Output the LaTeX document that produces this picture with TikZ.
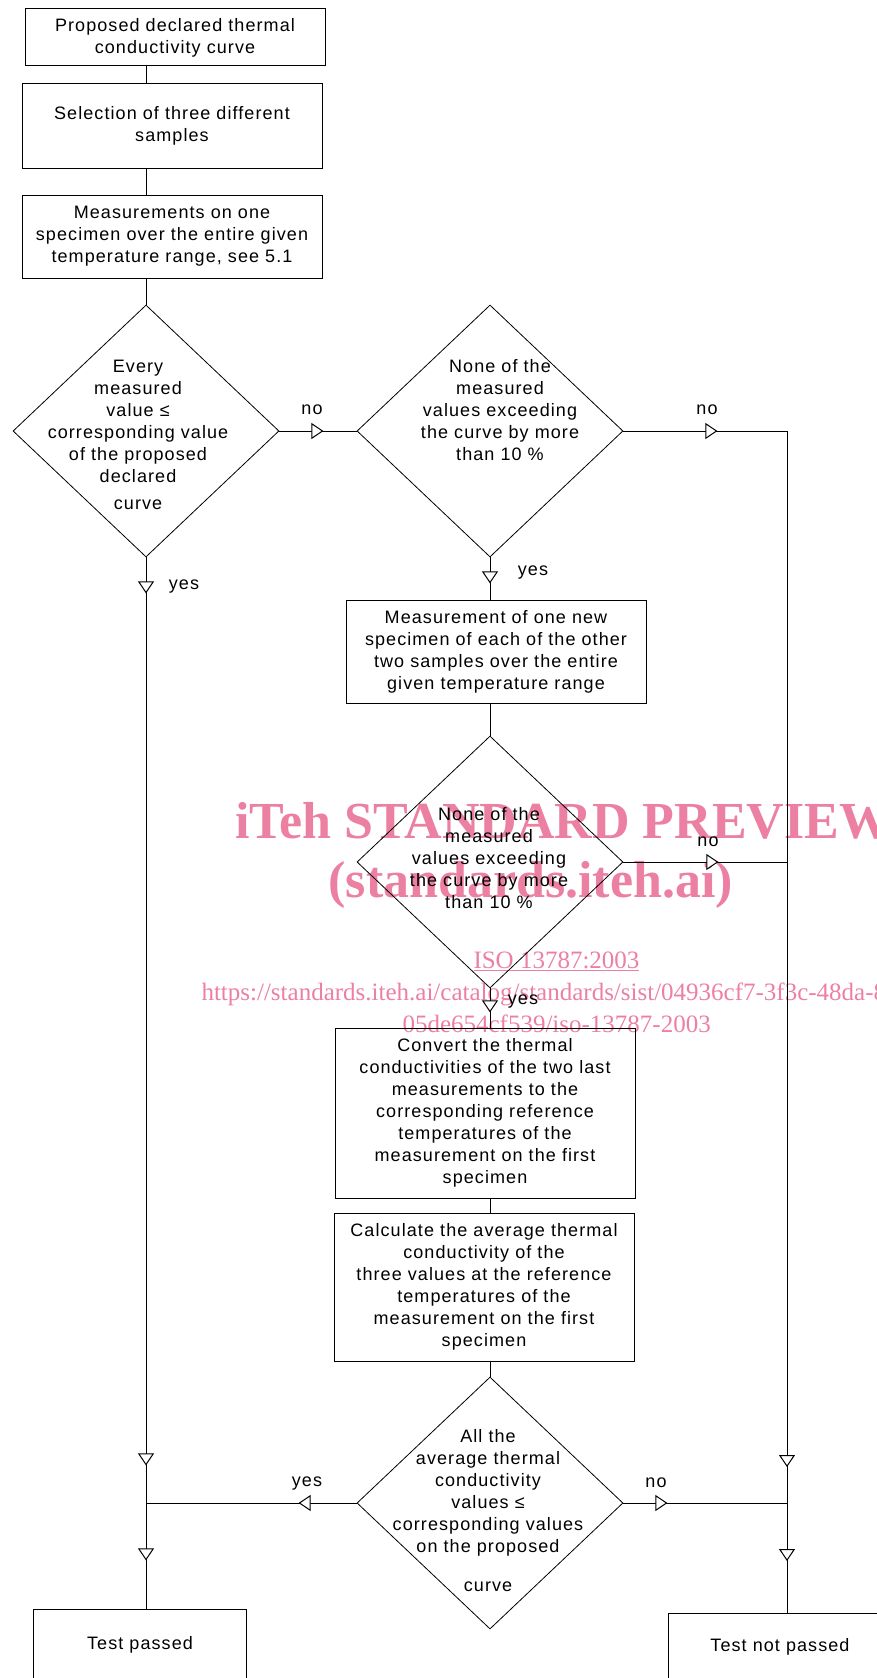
\documentclass[tikz,border=0pt]{standalone}
\usepackage{fontspec}
\setmainfont{Liberation Sans}[LetterSpace=6]
\newfontfamily\wmfont{Liberation Serif}
\usetikzlibrary{shapes.geometric,arrows.meta,decorations.markings}
\definecolor{wmpink}{RGB}{236,128,162}

\begin{document}
\begin{tikzpicture}[x=1pt, y=-1pt, line width=1pt, font=\fontsize{18}{22}\selectfont,
    box/.style={draw, align=center, minimum width=300pt, inner sep=2pt},
    decision/.style={draw, diamond, minimum width=266pt, minimum height=252pt, inner sep=0pt, line width=0.8pt},
    dtext/.style={align=center, inner sep=0pt},
    lbl/.style={inner sep=0pt},
    wm/.style={text=wmpink, inner sep=0pt, anchor=base west},
    arrowat/.style={postaction={decorate, decoration={markings,
        mark=at position #1 with {\arrow{Triangle[length=12pt, width=16pt, fill=white]}}}}}]
        \useasboundingbox (0,0) rectangle (877,1678);
        \clip (0,0) rectangle (877,1678);

        \node[wm, font=\wmfont\bfseries\fontsize{52}{52}\selectfont] (w1) at (235,838) {iTeh STANDARD PREVIEW};
        \node[wm, font=\wmfont\bfseries\fontsize{52}{52}\selectfont] (w2) at (328,897) {(standards.iteh.ai)};
        \node[wm, font=\wmfont\fontsize{25}{25}\selectfont] (w3) at (473,968) {\underline{ISO 13787:2003}};
        \node[wm, font=\wmfont\fontsize{25}{25}\selectfont] (w4) at (201,1000) {https://standards.iteh.ai/catalog/standards/sist/04936cf7-3f3c-48da-87};
        \node[wm, font=\wmfont\fontsize{25}{25}\selectfont] (w5) at (402,1032) {05de654cf539/iso-13787-2003};

        \node[box, minimum height=57pt] (b1) at (175,37.5) {Proposed declared thermal\\conductivity curve};
        \node[box, minimum height=85pt] (b2) at (172,125.5) {Selection of three different\\samples};
        \node[box, minimum height=83pt] (b3) at (172,236.5) {Measurements on one\\specimen over the entire given\\temperature range, see 5.1};
        \node[decision] (d1) at (146,431) {};
        \node[decision] (d2) at (490,431) {};
        \node[box, minimum height=103pt] (b4) at (496,651.5) {Measurement of one new\\specimen of each of the other\\two samples over the entire\\given temperature range};
        \node[decision] (d3) at (490,862) {};
        \node[box, minimum height=170pt] (b5) at (485,1113) {Convert the thermal\\conductivities of the two last\\measurements to the\\corresponding reference\\temperatures of the\\measurement on the first\\specimen};
        \node[box, minimum height=148pt] (b6) at (484,1287) {Calculate the average thermal\\conductivity of the\\three values at the reference\\temperatures of the\\measurement on the first\\specimen};
        \node[decision] (d4) at (490,1503) {};
        \node[box, minimum width=213pt, minimum height=72pt] (tp) at (140,1645) {Test passed};
        \node[box, minimum width=224pt, minimum height=68pt] (tnp) at (780,1647) {Test not passed};

        \node[dtext] (t1) at (138,435) {Every\\measured\\value ≤\\corresponding value\\of the proposed\\declared\\[5pt]curve};
        \node[dtext] (t2) at (500,410) {None of the\\measured\\values exceeding\\the curve by more\\than 10 \%};
        \node[dtext] (t3) at (489,858) {None of the\\measured\\values exceeding\\the curve by more\\than 10 \%};
        \node[dtext] (t4) at (488,1511) {All the\\average thermal\\conductivity\\values ≤\\corresponding values\\on the proposed\\[17pt]curve};

        \coordinate (rc) at (787,431);

        \draw (b1.south -| d1.north) -- (b2.north -| d1.north);
        \draw (b2.south -| d1.north) -- (b3.north -| d1.north);
        \draw (b3.south -| d1.north) -- (d1.north);
        \draw[arrowat=44pt] (d1.east) -- (d2.west);
        \draw[arrowat=94pt] (d2.east) -- (rc);
        \draw[arrowat=26pt] (d2.south) -- (b4.north -| d2.south);
        \draw (b4.south -| d3.north) -- (d3.north);
        \draw[arrowat=95pt] (d3.east) -- (d3.east -| rc);
        \draw[arrowat=24pt] (d3.south) -- (b5.north -| d3.south);
        \draw (b5.south -| d3.south) -- (b6.north -| d3.south);
        \draw (b6.south -| d4.north) -- (d4.north);
        \draw[arrowat=58pt] (d4.west) -- (d4.west -| d1.south);
        \draw[arrowat=44pt] (d4.east) -- (d4.east -| rc);
        \draw[arrowat=36pt, arrowat=908pt, arrowat=1003pt] (d1.south) -- (d1.south |- tp.north);
        \draw[arrowat=1036pt, arrowat=1130pt] (rc) -- (rc |- tnp.north);

        \node[lbl] (l1) at (312,410) {no};
        \node[lbl] (l2) at (707,410) {no};
        \node[lbl] (l3) at (184,587) {yes};
        \node[lbl] (l4) at (533,573) {yes};
        \node[lbl] (l5) at (708,842) {no};
        \node[lbl] (l6) at (523,1002) {yes};
        \node[lbl] (l7) at (307,1484) {yes};
        \node[lbl] (l8) at (656,1483) {no};
      \end{tikzpicture}
\end{document}
